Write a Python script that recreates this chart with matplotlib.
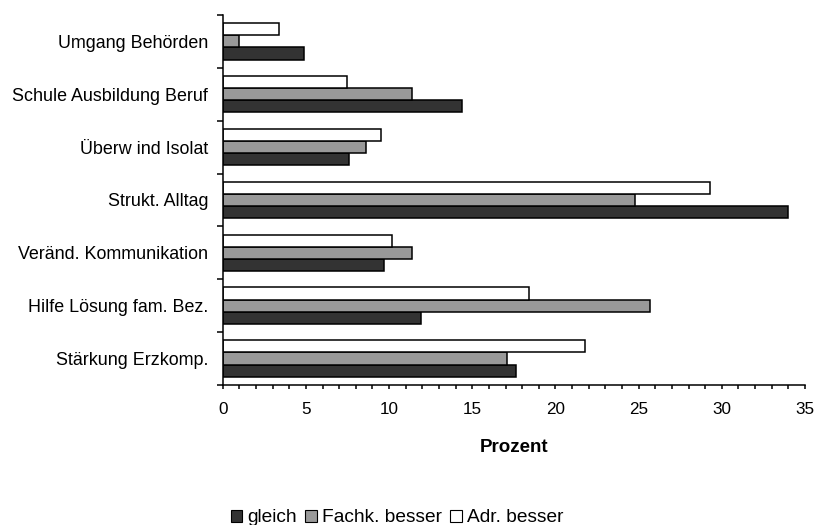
import matplotlib
matplotlib.use("Agg")
import matplotlib.pyplot as plt
from matplotlib.patches import Patch
from matplotlib.ticker import MultipleLocator, FixedLocator
import numpy as np

plt.rcParams['font.family'] = ['Liberation Sans', 'DejaVu Sans']

categories = ["Stärkung Erzkomp.", "Hilfe Lösung fam. Bez.", "Veränd. Kommunikation",
              "Strukt. Alltag", "Überw ind Isolat", "Schule Ausbildung Beruf", "Umgang Behörden"]
gleich = [17.6, 11.9, 9.7, 34.0, 7.6, 14.4, 4.9]
fachk_besser = [17.1, 25.7, 11.4, 24.8, 8.6, 11.4, 1.0]
adr_besser = [21.8, 18.4, 10.2, 29.3, 9.5, 7.5, 3.4]
series_names = ["gleich", "Fachk. besser", "Adr. besser"]
colors = ["#333333", "#999999", "#ffffff"]
x_ticks = [0, 5, 10, 15, 20, 25, 30, 35]

fig = plt.figure(figsize=(8.17, 5.25), dpi=100)
ax = fig.add_axes([0.2726, 0.2667, 0.7127, 0.7048])

y = np.arange(len(categories))
h = 0.23
for vals, off, col in zip([gleich, fachk_besser, adr_besser], [-h, 0, h], colors):
    ax.barh(y + off, vals, height=h, color=col, edgecolor="black", linewidth=1.1)

ax.set_xlim(0, 35)
ax.set_ylim(-0.5, len(categories) - 0.5)
ax.xaxis.set_major_locator(FixedLocator(x_ticks))
ax.xaxis.set_minor_locator(MultipleLocator(1))
ax.set_xticklabels([str(t) for t in x_ticks], fontsize=12.3)
ax.tick_params(axis='x', which='both', direction='out', length=3, width=1.1, pad=9)

ax.set_yticks(y)
ax.set_yticklabels(categories, fontsize=12.9)
ax.yaxis.set_minor_locator(FixedLocator(np.arange(-0.5, len(categories), 1.0)))
ax.tick_params(axis='y', which='major', length=0, pad=10.5)
ax.tick_params(axis='y', which='minor', direction='out', length=4.3, width=1.1)

for s in ['top', 'right']:
    ax.spines[s].set_visible(False)
for s in ['left', 'bottom']:
    ax.spines[s].set_linewidth(1.1)

ax.set_xlabel("Prozent", fontsize=13.5, fontweight='bold', labelpad=16)

handles = [Patch(facecolor=c, edgecolor="black", linewidth=0.8) for c in colors]
fig.legend(handles, series_names, loc='center', bbox_to_anchor=(397 / 817, 1 - 518 / 525),
           ncol=3, frameon=False, fontsize=13.8, handlelength=0.6, handleheight=0.6,
           handletextpad=0.25, columnspacing=0.45, borderaxespad=0)

fig.savefig("out.png", dpi=100)
